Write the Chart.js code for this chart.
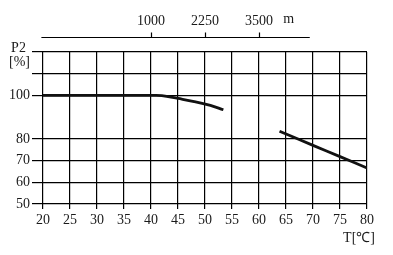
<!DOCTYPE html>
<html><head><meta charset="utf-8">
<script src="https://cdn.jsdelivr.net/npm/chart.js@4/dist/chart.umd.min.js"></script>
<style>html,body{margin:0;padding:0;background:#fff}#wrap{width:393px;height:255px}</style>
</head><body><div id="wrap"><canvas id="c" width="393" height="255"></canvas></div>
<script>
// Data
const temps = [20, 30, 40, 42, 45, 48, 51, 53.4, 58, 63.8, 70, 75, 80];
const p2    = [100, 100, 100, 99.9, 98.6, 97.2, 95.4, 93.4, null, 83.5, 77, 71.8, 66.6];
const xTicks = [20, 25, 30, 35, 40, 45, 50, 55, 60, 65, 70, 75, 80];
const yTicks = [50, 60, 70, 80, 90, 100, 110, 120];
const yTickLabels = ['50', '60', '70', '80', '', '100', '', ''];
const altTicks = [1000, 2250, 3500];
const altUnit = 'm';
const yTitle = ['P2', '[%]'];
const xTitle = 'T[℃]';

const FONT = {family: '"Liberation Serif", "Times New Roman", serif', size: 14};
const INK = '#1a1a1a';

// altitude scale: m = 1000 + (T - 40) * 125
const tToM = t => 1000 + (t - 40) * 125;

const deco = {
  id: 'deco',
  afterDraw(chart) {
    const ctx = chart.ctx, x = chart.scales.x, ca = chart.chartArea, alt = chart.scales.x2;
    ctx.save();
    ctx.strokeStyle = '#000'; ctx.lineWidth = 1.2;
    const ly = Math.round(ca.top - 15) + 0.5;
    ctx.beginPath();
    ctx.moveTo(alt.getPixelForValue(tToM(19.7)), ly);
    ctx.lineTo(alt.getPixelForValue(tToM(69.4)), ly);
    altTicks.forEach(v => {
      const px = Math.round(alt.getPixelForValue(v)) + 0.5;
      ctx.moveTo(px, ly); ctx.lineTo(px, ly - 5);
    });
    ctx.stroke();
    ctx.fillStyle = INK;
    ctx.font = FONT.size + 'px ' + FONT.family;
    ctx.textBaseline = 'middle';
    ctx.textAlign = 'center';
    ctx.fillText(altUnit, alt.getPixelForValue(tToM(65.5)), ca.top - 33);
    ctx.fillText(yTitle[0], ca.left - 24.5, ca.top - 4);
    ctx.fillText(yTitle[1], ca.left - 23.5, ca.top + 10.5);
    ctx.textAlign = 'right';
    ctx.fillText(xTitle, x.getPixelForValue(80) + 8, ca.bottom + 34);
    ctx.restore();
  }
};

new Chart(document.getElementById('c'), {
  type: 'line',
  data: {
    datasets: [{
      data: temps.map((t, i) => ({x: t, y: p2[i]})),
      borderColor: '#111', borderWidth: 2.8, pointRadius: 0,
      tension: 0.4, spanGaps: false, fill: false
    }]
  },
  options: {
    responsive: false, animation: false,
    layout: {padding: {left: 0, right: 26, top: 0, bottom: 0}},
    plugins: {legend: {display: false}, tooltip: {enabled: false}},
    scales: {
      x: {
        type: 'linear', position: 'bottom', min: 20, max: 80,
        afterBuildTicks: s => { s.ticks = xTicks.map(v => ({value: v})); },
        afterFit: s => { s.height = 51; },
        grid: {color: '#000', lineWidth: 1.2, tickLength: 5},
        border: {display: false},
        ticks: {font: FONT, color: INK, padding: 3, maxRotation: 0}
      },
      x2: {
        type: 'linear', position: 'top', min: tToM(20), max: tToM(80),
        afterBuildTicks: s => { s.ticks = altTicks.map(v => ({value: v})); },
        afterFit: s => { s.height = 52; },
        grid: {display: false}, border: {display: false},
        ticks: {font: FONT, color: INK, padding: 14, maxRotation: 0, callback: v => String(v)}
      },
      y: {
        type: 'linear', min: 50, max: 120,
        afterBuildTicks: s => { s.ticks = yTicks.map(v => ({value: v})); },
        afterFit: s => { s.width = 43; },
        grid: {
          color: c => (c.tick && c.tick.value === 90) ? 'rgba(0,0,0,0)' : '#000',
          lineWidth: 1.2, tickLength: 11
        },
        border: {display: false},
        ticks: {font: FONT, color: INK, padding: 2,
          callback: (v) => { const i = yTicks.indexOf(v); return i >= 0 ? yTickLabels[i] : ''; }}
      }
    }
  },
  plugins: [deco]
});
</script></body></html>
